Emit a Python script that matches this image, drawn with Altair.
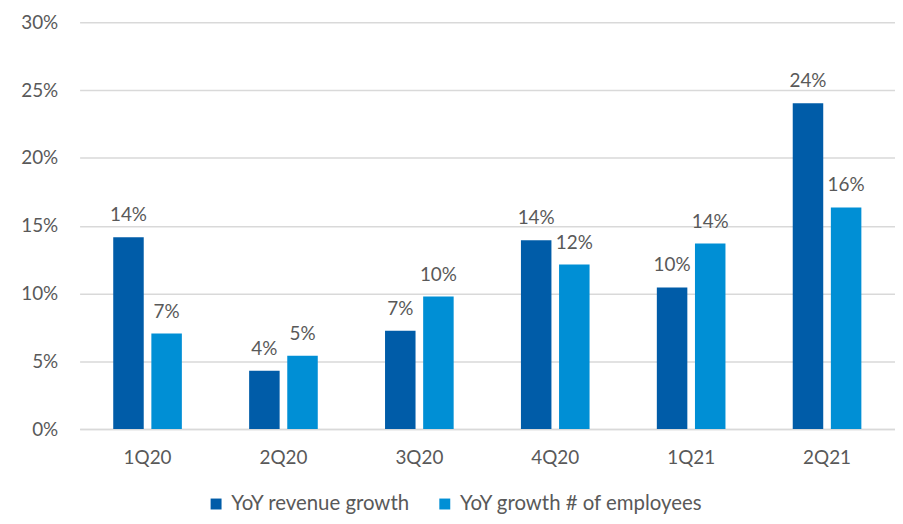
import altair as alt
import pandas as pd

quarters = ["1Q20", "2Q20", "3Q20", "4Q20", "1Q21", "2Q21"]
revenue_growth = [14.15, 4.31, 7.25, 13.93, 10.45, 24.03]
employee_growth = [7.05, 5.41, 9.77, 12.14, 13.68, 16.35]
series_names = ["YoY revenue growth", "YoY growth # of employees"]
colors = ["#005CA8", "#008FD5"]

rows = []
for q, r, e in zip(quarters, revenue_growth, employee_growth):
    rows.append({"quarter": q, "series": series_names[0], "value": r / 100})
    rows.append({"quarter": q, "series": series_names[1], "value": e / 100})
df = pd.DataFrame(rows)

FONT = "Lato"
TXT = "#595959"

x_enc = alt.X("quarter:N", sort=quarters,
              scale=alt.Scale(paddingInner=0.495, paddingOuter=0.2475),
              axis=alt.Axis(title=None, labelAngle=0, labelFontSize=19, labelColor=TXT,
                            labelFont=FONT, ticks=False, labelPadding=20,
                            domainColor="#D9D9D9", domainWidth=1.5))
xoff = alt.XOffset("series:N", sort=series_names,
                   scale=alt.Scale(paddingInner=0.2, paddingOuter=0))
y_enc = alt.Y("value:Q", scale=alt.Scale(domain=[0, 0.30]),
              axis=alt.Axis(title=None, format=".0%", values=[0, 0.05, 0.10, 0.15, 0.20, 0.25, 0.30],
                            labelFontSize=19, labelColor=TXT, labelFont=FONT, ticks=False,
                            domain=False, labelPadding=22, gridColor="#D9D9D9", gridWidth=1.5))

bars = alt.Chart(df).mark_bar().encode(
    x=x_enc, xOffset=xoff, y=y_enc,
    color=alt.Color("series:N", sort=series_names,
                    scale=alt.Scale(domain=series_names, range=colors),
                    legend=alt.Legend(title=None, orient="none", direction="horizontal",
                                      legendX=127, legendY=474, padding=0,
                                      symbolType="square", symbolSize=121, symbolStrokeWidth=0,
                                      labelFontSize=20.5, labelColor=TXT, labelFont=FONT,
                                      labelLimit=0, labelOffset=5, columnPadding=24,
                                      symbolOpacity=1)),
)

labels = alt.Chart(df).mark_text(baseline="alphabetic", dy=-16, fontSize=19,
                                 color=TXT, font=FONT).encode(
    x=alt.X("quarter:N", sort=quarters), xOffset=alt.XOffset("series:N", sort=series_names),
    y="value:Q",
    text=alt.Text("value:Q", format=".0%"),
)

chart = (bars + labels).properties(
    width=820, height=409,
    autosize=alt.AutoSizeParams(type="none"),
    padding={"left": 72, "top": 13, "right": 0, "bottom": 86},
).configure_view(stroke=None).configure_axis(grid=True).configure_axisX(grid=False)

chart.save("out.html", embed_options={"renderer": "svg", "actions": False})
